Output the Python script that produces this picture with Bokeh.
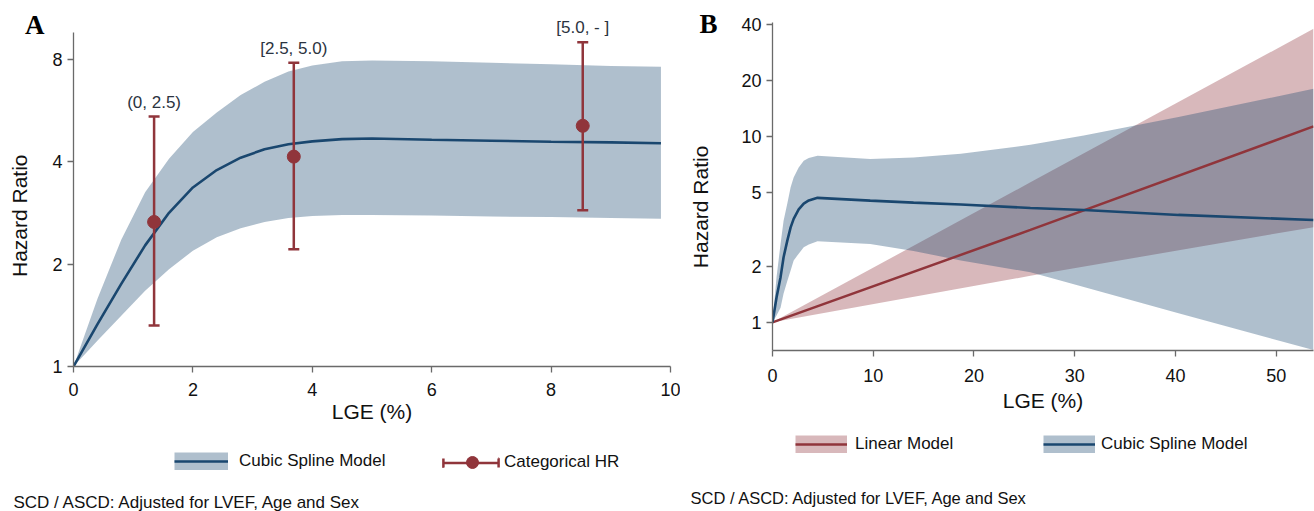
from bokeh.plotting import figure
from bokeh.layouts import row, column
from bokeh.models import (ColumnDataSource, Legend, LegendItem, Label, FixedTicker,
                          PrintfTickFormatter, Range1d, LogAxis, CustomJSTickFormatter)
from bokeh.embed import file_html
from bokeh.resources import INLINE
from bokeh.core.properties import value

NAVY = "#1a476f"
MAROON = "#90353b"
FONT = "Liberation Sans"
TXT = "#111111"

# ---------------- Panel A data ----------------
a_x = [0, 0.4, 0.8, 1.2, 1.6, 2.0, 2.4, 2.8, 3.2, 3.6, 4.0, 4.5, 5.0, 6.0, 7.0, 8.0, 9.0, 9.84]
a_hr = [1, 1.33, 1.75, 2.27, 2.83, 3.36, 3.78, 4.11, 4.35, 4.50, 4.59, 4.66, 4.68, 4.64, 4.61, 4.58, 4.56, 4.53]
a_hi = [1, 1.58, 2.36, 3.25, 4.08, 4.89, 5.58, 6.28, 6.87, 7.36, 7.67, 7.89, 7.94, 7.89, 7.81, 7.73, 7.65, 7.6]
a_lo = [1, 1.19, 1.41, 1.67, 1.93, 2.19, 2.40, 2.55, 2.66, 2.73, 2.77, 2.79, 2.79, 2.78, 2.76, 2.75, 2.73, 2.72]

cat_x = [1.35, 3.69, 8.53]
cat_hr = [2.66, 4.14, 5.10]
cat_lo = [1.32, 2.21, 2.88]
cat_hi = [5.43, 7.81, 8.98]
cat_labels = ["(0, 2.5)", "[2.5, 5.0)", "[5.0, - ]"]

a_xticks = [0, 2, 4, 6, 8, 10]
a_yticks = [1, 2, 4, 8]

# ---------------- Panel B data ----------------
b_lin_x = [0, 25.6, 53.7]
b_lin_hr = [1, 3.14, 11.3]
b_lin_lo = [1, 1.78, 3.25]
b_lin_hi = [1, 5.66, 37.8]

b_sp_x = [0, 0.4, 0.8, 1.1, 1.47, 1.8, 2.1, 2.6, 3.1, 3.6, 4.47, 9.7, 14.0, 18.7, 25.6, 30.9, 40.3, 53.7]
b_sp_hr = [1, 1.36, 1.75, 2.24, 2.75, 3.24, 3.6, 4.05, 4.35, 4.52, 4.67, 4.51, 4.4, 4.3, 4.12, 4.02, 3.78, 3.55]
b_sp_hi = [1, 1.75, 2.64, 3.52, 4.35, 5.32, 6.0, 6.8, 7.4, 7.65, 7.85, 7.55, 7.7, 8.05, 9.0, 10.1, 12.7, 18.0]
b_sp_lo = [1, 1.09, 1.2, 1.43, 1.67, 1.9, 2.15, 2.34, 2.53, 2.62, 2.73, 2.64, 2.42, 2.15, 1.86, 1.55, 1.12, 0.71]

b_xticks = [0, 10, 20, 30, 40, 50]
b_yticks = [1, 2, 5, 10, 20, 40]

Y_LABEL = "Hazard Ratio"
X_LABEL = "LGE (%)"
FOOTNOTE = "SCD / ASCD: Adjusted for LVEF, Age and Sex"
NB = "\u00a0"


def style(p, xticks, yticks, xstand, xlabstand):
    p.grid.visible = False
    p.outline_line_color = None
    p.xaxis.ticker = FixedTicker(ticks=xticks)
    p.yaxis.ticker = FixedTicker(ticks=yticks)
    p.yaxis.formatter = PrintfTickFormatter(format="%d")
    for ax in (p.xaxis[0], p.yaxis[0]):
        ax.axis_line_color = "#6a6a6a"
        ax.axis_line_width = 1.3
        ax.major_tick_line_color = "#6a6a6a"
        ax.major_tick_line_width = 1.3
        ax.major_tick_out = 6
        ax.major_tick_in = 0
        ax.minor_tick_line_color = None
        ax.major_label_text_font = FONT
        ax.major_label_text_font_size = "18px"
        ax.major_label_text_color = TXT
        ax.axis_label_text_font = FONT
        ax.axis_label_text_font_size = "21px"
        ax.axis_label_text_font_style = "normal"
        ax.axis_label_text_color = TXT
    p.xaxis.major_label_standoff = xstand
    p.yaxis.major_label_standoff = 5
    p.xaxis.axis_label_standoff = xlabstand


def outer_axis(tick, letter, standoff, label, labstand):
    ax = LogAxis(ticker=FixedTicker(ticks=[tick]),
                 formatter=CustomJSTickFormatter(code="return '%s'" % letter),
                 axis_label=label)
    ax.axis_line_color = None
    ax.major_tick_line_color = None
    ax.major_tick_out = 0
    ax.major_tick_in = 0
    ax.minor_tick_line_color = None
    ax.major_label_standoff = standoff
    ax.major_label_text_font = "Liberation Serif"
    ax.major_label_text_font_style = "bold"
    ax.major_label_text_font_size = "27px"
    ax.major_label_text_color = "#000000"
    ax.axis_label_text_font = FONT
    ax.axis_label_text_font_size = "21px"
    ax.axis_label_text_font_style = "normal"
    ax.axis_label_text_color = TXT
    ax.axis_label_standoff = labstand
    return ax


def legend(items, x, y, gw, gh, standoff, lh=18):
    return Legend(items=items, location=(x, y), orientation="horizontal",
                  glyph_width=gw, glyph_height=gh, label_standoff=standoff,
                  label_height=lh, padding=0, margin=0, spacing=0,
                  border_line_color=None, background_fill_alpha=0,
                  label_text_font=FONT, label_text_font_size="17px",
                  label_text_color=TXT)


# ================= Panel A =================
pA = figure(width=680, height=432, x_range=Range1d(0, 10), y_range=Range1d(1, 10.98),
            y_axis_type="log", output_backend="svg", toolbar_location=None, frame_align=False,
            min_border_left=73, min_border_right=10, min_border_top=12, min_border_bottom=66,
            x_axis_label=X_LABEL)
style(pA, a_xticks, a_yticks, 10, 1)
pA.yaxis.bounds = (1, 9.57)
pA.add_layout(outer_axis(10.12, "A", 5, Y_LABEL + NB * 9, -9), "left")

srcA = ColumnDataSource(dict(x=a_x, hr=a_hr, lo=a_lo, hi=a_hi))
pA.varea(x="x", y1="lo", y2="hi", source=srcA, fill_color=NAVY, fill_alpha=0.35)
pA.line(x="x", y="hr", source=srcA, line_color=NAVY, line_width=2.6)

srcC = ColumnDataSource(dict(x=cat_x, hr=cat_hr, lo=cat_lo, hi=cat_hi, lab=cat_labels))
pA.segment(x0="x", y0="lo", x1="x", y1="hi", source=srcC, line_color=MAROON, line_width=2.5)
pA.scatter(x="x", y="lo", source=srcC, marker="dash", size=11, line_color=MAROON, line_width=2.5)
pA.scatter(x="x", y="hi", source=srcC, marker="dash", size=11, line_color=MAROON, line_width=2.5)
pA.scatter(x="x", y="hr", source=srcC, marker="circle", size=13, fill_color=MAROON, line_color=MAROON)
pA.text(x="x", y="hi", text="lab", source=srcC, y_offset=-5, text_align="center",
        text_baseline="bottom", text_font=value(FONT), text_font_size="17px", text_color="#2b3340")

# ================= Panel B =================
pB = figure(width=634, height=432, x_range=Range1d(0, 53.7), y_range=Range1d(0.706, 40.9),
            y_axis_type="log", output_backend="svg", toolbar_location=None, frame_align=False,
            min_border_left=92, min_border_right=1, min_border_top=22, min_border_bottom=82,
            x_axis_label=X_LABEL)
style(pB, b_xticks, b_yticks, 12, 4)
pB.add_layout(outer_axis(40, "B", 21, Y_LABEL + NB * 7, -16), "left")

srcL = ColumnDataSource(dict(x=b_lin_x, hr=b_lin_hr, lo=b_lin_lo, hi=b_lin_hi))
srcS = ColumnDataSource(dict(x=b_sp_x, hr=b_sp_hr, lo=b_sp_lo, hi=b_sp_hi))
pB.varea(x="x", y1="lo", y2="hi", source=srcL, fill_color=MAROON, fill_alpha=0.35)
pB.varea(x="x", y1="lo", y2="hi", source=srcS, fill_color=NAVY, fill_alpha=0.35)
pB.line(x="x", y="hr", source=srcL, line_color=MAROON, line_width=2.5)
pB.line(x="x", y="hr", source=srcS, line_color=NAVY, line_width=2.6)

# ================= Legends + footnotes strip =================
pL = figure(width=1314, height=79, x_range=Range1d(0, 1314), y_range=Range1d(511, 432),
            output_backend="svg", toolbar_location=None, frame_align=False,
            x_axis_location=None, y_axis_location=None, min_border=0)
pL.grid.visible = False
pL.outline_line_color = None

# legend-only renderers: a single point placed outside the visible ranges
off = ColumnDataSource(dict(x=[-500], y=[-500]))
band_navy = pL.line(x="x", y="y", source=off, line_color=NAVY, line_alpha=0.35, line_width=18)
band_red = pL.line(x="x", y="y", source=off, line_color=MAROON, line_alpha=0.35, line_width=18)
line_navy = pL.line(x="x", y="y", source=off, line_color=NAVY, line_width=2.6)
line_red = pL.line(x="x", y="y", source=off, line_color=MAROON, line_width=2.5)
cat_line = pL.line(x="x", y="y", source=off, line_color=MAROON, line_width=2.5, line_dash="0 7 55 7")
cat_caps = pL.rect(x="x", y="y", width=1, height=1, source=off, fill_color=None,
                   line_color=MAROON, line_width=2.5, line_dash="0 55 9 55 9")
cat_dot = pL.scatter(x="x", y="y", source=off, marker="circle", fill_color=MAROON, line_color=MAROON)

pL.add_layout(legend([LegendItem(label="Cubic Spline Model", renderers=[band_navy, line_navy])],
                     174, 40, 54, 18, 11))
pL.add_layout(legend([LegendItem(label="", renderers=[cat_line, cat_caps])],
                     436, 43.5, 69, 11, 0, lh=11))
pL.add_layout(legend([LegendItem(label="Categorical HR", renderers=[cat_dot])],
                     457, 34, 30, 30, 17))
pL.add_layout(legend([LegendItem(label="Linear Model", renderers=[band_red, line_red])],
                     795, 57, 52, 18, 8))
pL.add_layout(legend([LegendItem(label="Cubic Spline Model", renderers=[band_navy, line_navy])],
                     1043, 57, 52, 18, 6))

pL.add_layout(Label(x=13, y=502, text=FOOTNOTE, text_font=FONT, text_font_size="17px",
                    text_color=TXT, text_baseline="alphabetic"))
pL.add_layout(Label(x=690, y=497, text=FOOTNOTE, text_font=FONT, text_font_size="16.5px",
                    text_color=TXT, text_baseline="alphabetic"))

layout = column(row(pA, pB, spacing=0), pL, spacing=0)
open("out.html", "w").write(file_html(layout, INLINE))
